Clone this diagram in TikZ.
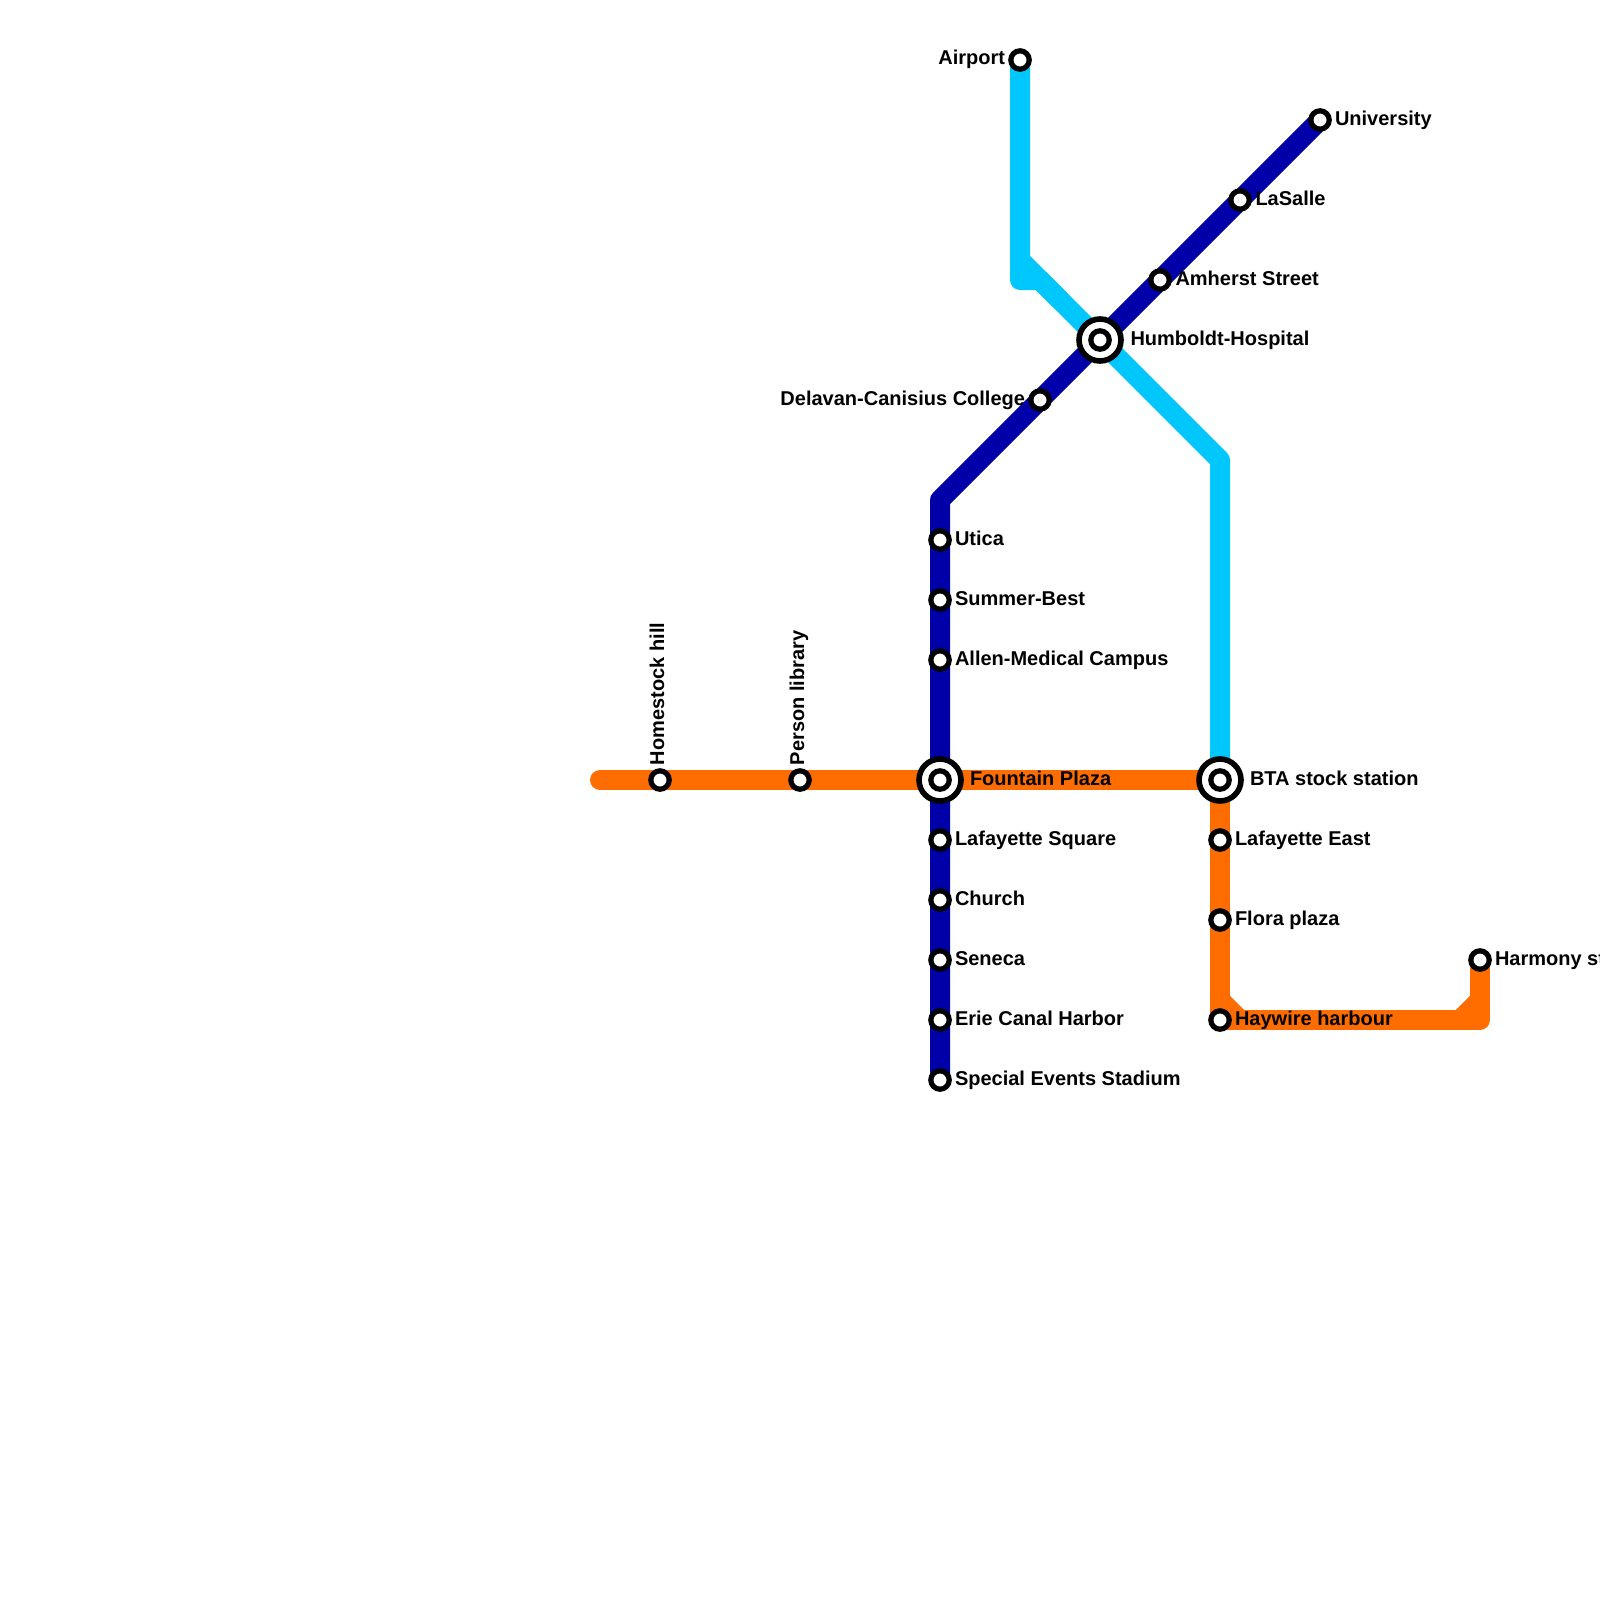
\documentclass[tikz,border=0pt]{standalone}
\usepackage{fontspec}
\setmainfont{Liberation Sans}[BoldFont={Liberation Sans Bold}]
\definecolor{lineblue}{HTML}{0000A8}
\definecolor{linecyan}{HTML}{00C8FF}
\definecolor{lineorange}{HTML}{FF6C00}
\tikzset{
  metro/.style={line width=20pt,line join=round,line cap=round},
  bluel/.style={metro,draw=lineblue},
  cyanl/.style={metro,draw=linecyan},
  orangel/.style={metro,draw=lineorange},
  stn/.style={circle,draw=black,fill=white,line width=5.2pt,inner sep=0pt,minimum size=18.4pt,outer sep=0pt},
  hub/.style={circle,draw=black,fill=white,line width=5.6pt,inner sep=0pt,minimum size=42pt,outer sep=0pt},
  lbl/.style={inner sep=0pt,outer sep=0pt,font=\fontsize{20pt}{22pt}\selectfont\bfseries,text=black},
  lr/.style={lbl,anchor=base west},
  ll/.style={lbl,anchor=base east},
  lu/.style={lbl,anchor=base west,rotate=90}
}
\begin{document}
\begin{tikzpicture}[x=1pt,y=-1pt]
\useasboundingbox (0,0) rectangle (1600,1600);
\clip (0,0) rectangle (1600,1600);
\fill[white] (0,0) rectangle (1600,1600);
% positions
\coordinate (airport) at (1020,60);
\coordinate (univ) at (1320,120);
\coordinate (lasalle) at (1240,200);
\coordinate (amherst) at (1160,280);
\coordinate (humboldt) at (1100,340);
\coordinate (delavan) at (1040,400);
\coordinate (utica) at (940,540);
\coordinate (summer) at (940,600);
\coordinate (allen) at (940,660);
\coordinate (fountain) at (940,780);
\coordinate (lafsq) at (940,840);
\coordinate (church) at (940,900);
\coordinate (seneca) at (940,960);
\coordinate (erie) at (940,1020);
\coordinate (special) at (940,1080);
\coordinate (bta) at (1220,780);
\coordinate (lafeast) at (1220,840);
\coordinate (flora) at (1220,920);
\coordinate (haywire) at (1220,1020);
\coordinate (harmony) at (1480,960);
\coordinate (homestock) at (660,780);
\coordinate (person) at (800,780);
\coordinate (oend) at (600,780);
\coordinate (obl) at (1220,1000);
\coordinate (obm) at (1240,1020);
\coordinate (obr) at (1480,1020);
\coordinate (orm) at (1460,1020);
\coordinate (orr) at (1480,1000);
\coordinate (bbend) at (940,500);
\coordinate (cbend) at (1020,260);
\coordinate (cfoot) at (1020,280);
\coordinate (cfootr) at (1040,280);
\coordinate (cfootd) at (1060,300);
\coordinate (cbend2) at (1220,460);
% lines
\draw[orangel] (oend) -- (bta) -- (haywire) -- (obr) -- (harmony);
\draw[orangel,line cap=butt] (obl) -- (obm);
\draw[orangel,line cap=butt] (orr) -- (orm);
\draw[cyanl] (airport) -- (cbend) -- (humboldt) -- (cbend2) -- (bta);
\draw[cyanl] (cbend) -- (cfoot) -- (cfootr) -- (cfootd);
\draw[bluel] (univ) -- (bbend) -- (special);
% stations
\foreach \s in {airport,univ,lasalle,amherst,delavan,utica,summer,allen,lafsq,church,seneca,erie,special,lafeast,flora,haywire,harmony,homestock,person}
  \node[stn] (st-\s) at (\s) {};
\foreach \s in {humboldt,fountain,bta}{
  \node[hub] (hub-\s) at (\s) {};
  \node[stn] (st-\s) at (\s) {};
}
% labels
\node[ll] (t-airport) at (1005,65) {Airport};
\node[lr] (t-univ) at (1335,125) {University};
\node[lr] (t-lasalle) at (1255.5,205) {LaSalle};
\node[lr] (t-amherst) at (1175.5,285) {Amherst Street};
\node[lr] (t-humboldt) at (1130.5,345) {Humboldt-Hospital};
\node[ll] (t-delavan) at (1025,405) {Delavan-Canisius College};
\node[lr] (t-utica) at (955,545) {Utica};
\node[lr] (t-summer) at (955,605) {Summer-Best};
\node[lr] (t-allen) at (955,665) {Allen-Medical Campus};
\node[lr] (t-fountain) at (970,785) {Fountain Plaza};
\node[lr] (t-bta) at (1250,785) {BTA stock station};
\node[lr] (t-lafsq) at (955,845) {Lafayette Square};
\node[lr] (t-church) at (955,905) {Church};
\node[lr] (t-seneca) at (955,965) {Seneca};
\node[lr] (t-erie) at (955,1025) {Erie Canal Harbor};
\node[lr] (t-special) at (955,1085) {Special Events Stadium};
\node[lr] (t-lafeast) at (1235,845) {Lafayette East};
\node[lr] (t-flora) at (1235,925) {Flora plaza};
\node[lr] (t-haywire) at (1235,1025) {Haywire harbour};
\node[lr] (t-harmony) at (1495,965) {Harmony st};
\node[lu] (t-homestock) at (664,765) {Homestock hill};
\node[lu] (t-person) at (804,765) {Person library};
\end{tikzpicture}
\end{document}
